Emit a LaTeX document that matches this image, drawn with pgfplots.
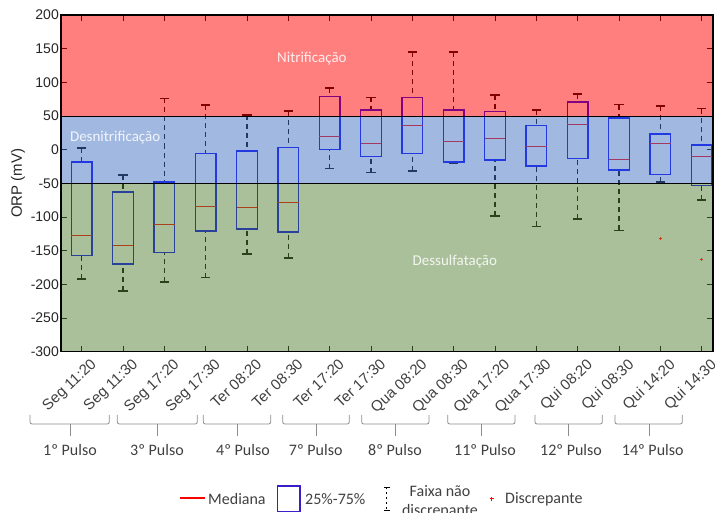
\documentclass[border=0pt]{standalone}
\usepackage{fontspec}
\setmainfont{Liberation Sans}
\newfontfamily\calibri{Carlito}
\usepackage{pgfplots}
\pgfplotsset{compat=1.18}
\usepgfplotslibrary{statistics}

\definecolor{regred}{RGB}{255,0,0}
\definecolor{regblue}{RGB}{68,114,196}
\definecolor{reggreen}{RGB}{84,130,53}
\definecolor{boxblue}{RGB}{0,0,255}
\definecolor{outl}{RGB}{205,60,30}
\definecolor{ticktxt}{RGB}{38,38,38}
\definecolor{lbltxt}{RGB}{64,64,64}
\definecolor{brk}{RGB}{140,140,140}
\definecolor{legbox}{RGB}{60,30,200}

\pgfplotsset{
  orpbox/.style={
    boxplot/draw direction=y,
    boxplot/box extend=0.5,
    boxplot/whisker extend=0.22,
    boxplot/every box/.style={draw=boxblue, line width=1.5pt},
    boxplot/every median/.style={draw=red, line width=1pt},
    boxplot/draw/lower whisker/.code={
      \draw[black, line width=1.3pt, dash pattern=on 5pt off 4pt]
        (boxplot cs:\pgfplotsboxplotvalue{lower whisker}) --
        (boxplot cs:\pgfplotsboxplotvalue{lower quartile});
      \draw[black, line width=1.7pt]
        (boxplot whisker cs:\pgfplotsboxplotvalue{lower whisker},0) --
        (boxplot whisker cs:\pgfplotsboxplotvalue{lower whisker},1);
    },
    boxplot/draw/upper whisker/.code={
      \draw[black, line width=1.3pt, dash pattern=on 5pt off 4pt]
        (boxplot cs:\pgfplotsboxplotvalue{upper whisker}) --
        (boxplot cs:\pgfplotsboxplotvalue{upper quartile});
      \draw[black, line width=1.7pt]
        (boxplot whisker cs:\pgfplotsboxplotvalue{upper whisker},0) --
        (boxplot whisker cs:\pgfplotsboxplotvalue{upper whisker},1);
    },
    mark=+, mark size=1.8pt, mark options={outl, solid, line width=1pt},
  },
}

\begin{document}
\begin{tikzpicture}
\useasboundingbox (0pt,0pt) rectangle (715pt,513pt);
\begin{axis}[
  at={(61pt,161.3pt)}, anchor=south west,
  scale only axis, width=652pt, height=336.7pt,
  xmin=0.5, xmax=16.275, ymin=-300, ymax=200,
  xtick={1,...,16},
  xticklabels={Seg 11:20,Seg 11:30,Seg 17:20,Seg 17:30,Ter 08:20,Ter 08:30,Ter 17:20,Ter 17:30,Qua 08:20,Qua 08:30,Qua 17:20,Qua 17:30,Qui 08:20,Qui 08:30,Qui 14:20,Qui 14:30},
  ytick={-300,-250,-200,-150,-100,-50,0,50,100,150,200},
  yticklabels={-300,-250,-200,-150,-100,-50,0,50,100,150,200},
  tick align=inside, major tick length=6pt,
  tick style={black, line width=0.9pt},
  axis line style={black, line width=1.2pt},
  xticklabel style={rotate=43, anchor=north east, inner sep=1pt, xshift=3pt, yshift=-9pt,
    font=\fontsize{15}{17}\selectfont, text=lbltxt},
  yticklabel style={font=\fontsize{14}{16}\selectfont, text=ticktxt, inner sep=2pt},
  ylabel={ORP (mV)},
  every axis y label/.style={at={(axis description cs:-0.066,0.5)}, rotate=90, anchor=center,
    font=\fontsize{15}{17}\selectfont, text=ticktxt},
]
% caixas: lower whisker, lower quartile, median, upper quartile, upper whisker
\addplot[orpbox, boxplot prepared={draw position=1, lower whisker=-192, lower quartile=-157, median=-128, upper quartile=-18, upper whisker=2.5}] coordinates {};
\addplot[orpbox, boxplot prepared={draw position=2, lower whisker=-210, lower quartile=-170, median=-143, upper quartile=-63, upper whisker=-38}] coordinates {};
\addplot[orpbox, boxplot prepared={draw position=3, lower whisker=-196, lower quartile=-153, median=-111, upper quartile=-48, upper whisker=76}] coordinates {};
\addplot[orpbox, boxplot prepared={draw position=4, lower whisker=-190, lower quartile=-121, median=-84, upper quartile=-6, upper whisker=66}] coordinates {};
\addplot[orpbox, boxplot prepared={draw position=5, lower whisker=-155, lower quartile=-118, median=-86, upper quartile=-2, upper whisker=52}] coordinates {};
\addplot[orpbox, boxplot prepared={draw position=6, lower whisker=-161, lower quartile=-122, median=-78, upper quartile=3.5, upper whisker=57}] coordinates {};
\addplot[orpbox, boxplot prepared={draw position=7, lower whisker=-28, lower quartile=0.5, median=19.5, upper quartile=79, upper whisker=92}] coordinates {};
\addplot[orpbox, boxplot prepared={draw position=8, lower whisker=-34, lower quartile=-10, median=9, upper quartile=58.6, upper whisker=77.5}] coordinates {};
\addplot[orpbox, boxplot prepared={draw position=9, lower whisker=-32, lower quartile=-6, median=36.3, upper quartile=77.5, upper whisker=145}] coordinates {};
\addplot[orpbox, boxplot prepared={draw position=10, lower whisker=-19.5, lower quartile=-18, median=12.5, upper quartile=58.6, upper whisker=145}] coordinates {};
\addplot[orpbox, boxplot prepared={draw position=11, lower whisker=-98, lower quartile=-15, median=16.5, upper quartile=57, upper whisker=81}] coordinates {};
\addplot[orpbox, boxplot prepared={draw position=12, lower whisker=-114, lower quartile=-24, median=4.6, upper quartile=36, upper whisker=59}] coordinates {};
\addplot[orpbox, boxplot prepared={draw position=13, lower whisker=-103, lower quartile=-13, median=37.3, upper quartile=70.5, upper whisker=82.4}] coordinates {};
\addplot[orpbox, boxplot prepared={draw position=14, lower whisker=-120, lower quartile=-30, median=-15, upper quartile=47, upper whisker=67}] coordinates {};
\addplot[orpbox, boxplot prepared={draw position=15, lower whisker=-48, lower quartile=-36.6, median=9.5, upper quartile=23.4, upper whisker=64.6}] table[row sep=\\, y index=0] {v\\ -132\\};
\addplot[orpbox, boxplot prepared={draw position=16, lower whisker=-75, lower quartile=-53.4, median=-9.4, upper quartile=7, upper whisker=61}] table[row sep=\\, y index=0] {v\\ -163\\};

% faixas (sobrepostas, semitransparentes)
\addplot[draw=none, fill=regred, fill opacity=0.5] coordinates {(0.5,50) (16.275,50) (16.275,200) (0.5,200) (0.5,50)};
\addplot[draw=none, fill=regblue, fill opacity=0.5] coordinates {(0.5,-50) (16.275,-50) (16.275,50) (0.5,50) (0.5,-50)};
\addplot[draw=none, fill=reggreen, fill opacity=0.5] coordinates {(0.5,-300) (16.275,-300) (16.275,-50) (0.5,-50) (0.5,-300)};
\addplot[black, line width=0.8pt] coordinates {(0.5,50) (16.275,50)};
\addplot[black, line width=0.8pt] coordinates {(0.5,-50) (16.275,-50)};

\node[text=white, text opacity=0.85, font=\calibri\fontsize{15}{17}\selectfont] at (axis cs:6.57,136) {Nitrificação};
\node[text=white, text opacity=0.85, font=\calibri\fontsize{15}{17}\selectfont] at (axis cs:1.81,18.5) {Desnitrificação};
\node[text=white, text opacity=0.85, font=\calibri\fontsize{15}{17}\selectfont] at (axis cs:10.03,-166) {Dessulfatação};
\draw[black, line width=1.2pt] (rel axis cs:0,0) rectangle (rel axis cs:1,1);
\end{axis}

\begin{scope}[x=1pt, y=1pt]
% chaves dos pulsos
\foreach \a/\b/\c/\lx/\t in {30/109.3/70/70/1º Pulso, 117.3/197.3/157.7/157/3º Pulso, 203.3/270.7/237.3/243/4º Pulso, 282.7/349.3/316/315.7/7º Pulso, 361.7/429/395.7/395/8º Pulso, 447.7/515/481/485/11º Pulso, 535/602.3/568.3/571/12º Pulso, 615/682.3/649/652.7/14º Pulso}{
  \draw[brk, line width=0.8pt, rounded corners=2pt] (\a,98) -- (\a,89) -- (\b,89) -- (\b,98);
  \draw[brk, line width=0.8pt] (\c,89) -- (\c,77);
  \node[text=lbltxt, font=\calibri\fontsize{16}{18}\selectfont] at (\lx,63) {\t};
}

% legenda
\draw[red, line width=1.6pt] (180,15) -- (205,15);
\node[anchor=west, inner sep=1pt, text=lbltxt, font=\calibri\fontsize{16}{18}\selectfont] at (207,14) {Mediana};
\draw[legbox, line width=1.6pt] (277.5,1.5) rectangle (300,27);
\node[anchor=west, inner sep=1pt, text=lbltxt, font=\calibri\fontsize{16}{18}\selectfont] at (304,14) {25\%-75\%};
\draw[black, line width=0.9pt] (384,26) -- (389.5,26);
\draw[black, line width=0.9pt] (384,3) -- (389.5,3);
\draw[black, line width=0.9pt, dash pattern=on 2pt off 3pt] (386.7,26) -- (386.7,3);
\node[text=lbltxt, font=\calibri\fontsize{16}{18}\selectfont] at (440,21.5) {Faixa não};
\node[text=lbltxt, font=\calibri\fontsize{16}{18}\selectfont] at (440,2) {discrepante};
\draw[red, line width=1pt] (489.5,14) -- (494,14) (491.75,11.75) -- (491.75,16.25);
\node[anchor=west, inner sep=1pt, text=lbltxt, font=\calibri\fontsize{16}{18}\selectfont] at (504,14) {Discrepante};
\end{scope}
\end{tikzpicture}
\end{document}
